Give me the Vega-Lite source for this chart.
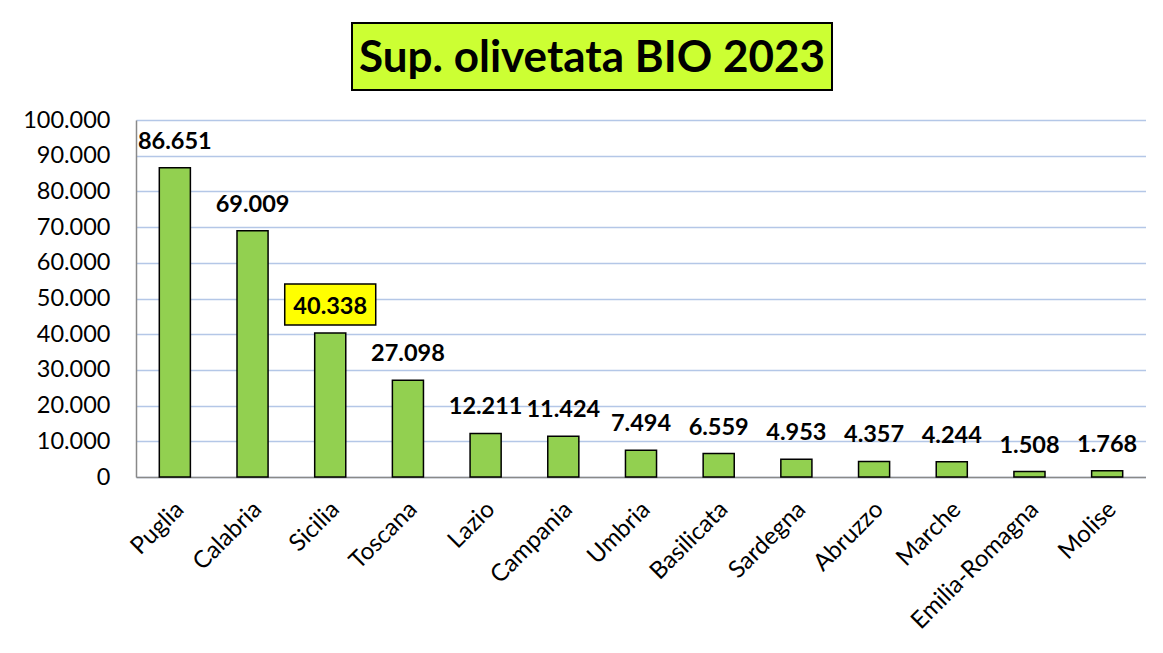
{
  "$schema": "https://vega.github.io/schema/vega-lite/v6.json",
  "padding": {"left": 22, "top": 22, "right": 0, "bottom": 0},
  "background": "white",
  "spacing": 17,
  "config": {
    "locale": {"number": {"decimal": ",", "thousands": ".", "grouping": [3], "currency": ["€", ""]}},
    "font": "Lato",
    "view": {"stroke": null},
    "axis": {"labelFont": "Lato", "titleFont": "Lato"}
  },
  "vconcat": [
    {
      "spacing": 15,
      "hconcat": [
        {
          "width": 200,
          "height": 67,
          "data": {"values": []},
          "mark": {"type": "text"},
          "encoding": {}
        },
        {
          "width": 480,
          "height": 67,
          "view": {"fill": "#ccff33", "stroke": "#000000", "strokeWidth": 2},
          "data": {"values": [{"titolo": "Sup. olivetata BIO 2023"}]},
          "mark": {"type": "text", "font": "Lato", "fontSize": 44, "fontWeight": "bold", "color": "#000000", "dy": 2},
          "encoding": {"text": {"field": "titolo", "type": "nominal"}}
        }
      ]
    },
    {
      "width": 1010,
      "height": 357,
      "data": {
        "values": [
          {"regione": "Puglia", "superficie": 86651},
          {"regione": "Calabria", "superficie": 69009},
          {"regione": "Sicilia", "superficie": 40338},
          {"regione": "Toscana", "superficie": 27098},
          {"regione": "Lazio", "superficie": 12211},
          {"regione": "Campania", "superficie": 11424},
          {"regione": "Umbria", "superficie": 7494},
          {"regione": "Basilicata", "superficie": 6559},
          {"regione": "Sardegna", "superficie": 4953},
          {"regione": "Abruzzo", "superficie": 4357},
          {"regione": "Marche", "superficie": 4244},
          {"regione": "Emilia-Romagna", "superficie": 1508},
          {"regione": "Molise", "superficie": 1768}
        ]
      },
      "encoding": {
        "x": {
          "field": "regione",
          "type": "nominal",
          "sort": null,
          "scale": {"paddingInner": 0.6, "paddingOuter": 0.3},
          "axis": {
            "title": null,
            "labelAngle": -45,
            "labelFontSize": 24,
            "labelColor": "#000000",
            "ticks": false,
            "domainColor": "#898989",
            "domainWidth": 1.5,
            "labelPadding": 20,
            "labelOffset": -3,
            "grid": false,
            "labelLimit": 300
          }
        },
        "y": {
          "field": "superficie",
          "type": "quantitative",
          "scale": {"domain": [0, 100000], "nice": false},
          "axis": {
            "title": null,
            "values": [0, 10000, 20000, 30000, 40000, 50000, 60000, 70000, 80000, 90000, 100000],
            "format": ",d",
            "labelFontSize": 23.5,
            "labelColor": "#000000",
            "ticks": false,
            "labelPadding": 26,
            "domainColor": "#898989",
            "domainWidth": 1.5,
            "gridColor": "#b4c7e7",
            "gridWidth": 1.5
          }
        }
      },
      "layer": [
        {"mark": {"type": "bar", "fill": "#92d050", "stroke": "#000000", "strokeWidth": 1.5}},
        {
          "transform": [{"filter": {"field": "regione", "equal": "Sicilia"}}],
          "mark": {
            "type": "point",
            "shape": "M-1,-0.45L1,-0.45L1,0.45L-1,0.45Z",
            "size": 8281,
            "filled": true,
            "fill": "#ffff00",
            "stroke": "#000000",
            "strokeWidth": 1.5,
            "opacity": 1,
            "yOffset": -28.5
          }
        },
        {
          "mark": {"type": "text", "font": "Lato", "fontSize": 23.5, "fontWeight": "bold", "baseline": "alphabetic", "dy": -19, "color": "#000000"},
          "encoding": {"text": {"field": "superficie", "type": "quantitative", "format": ",d"}}
        }
      ]
    }
  ]
}
